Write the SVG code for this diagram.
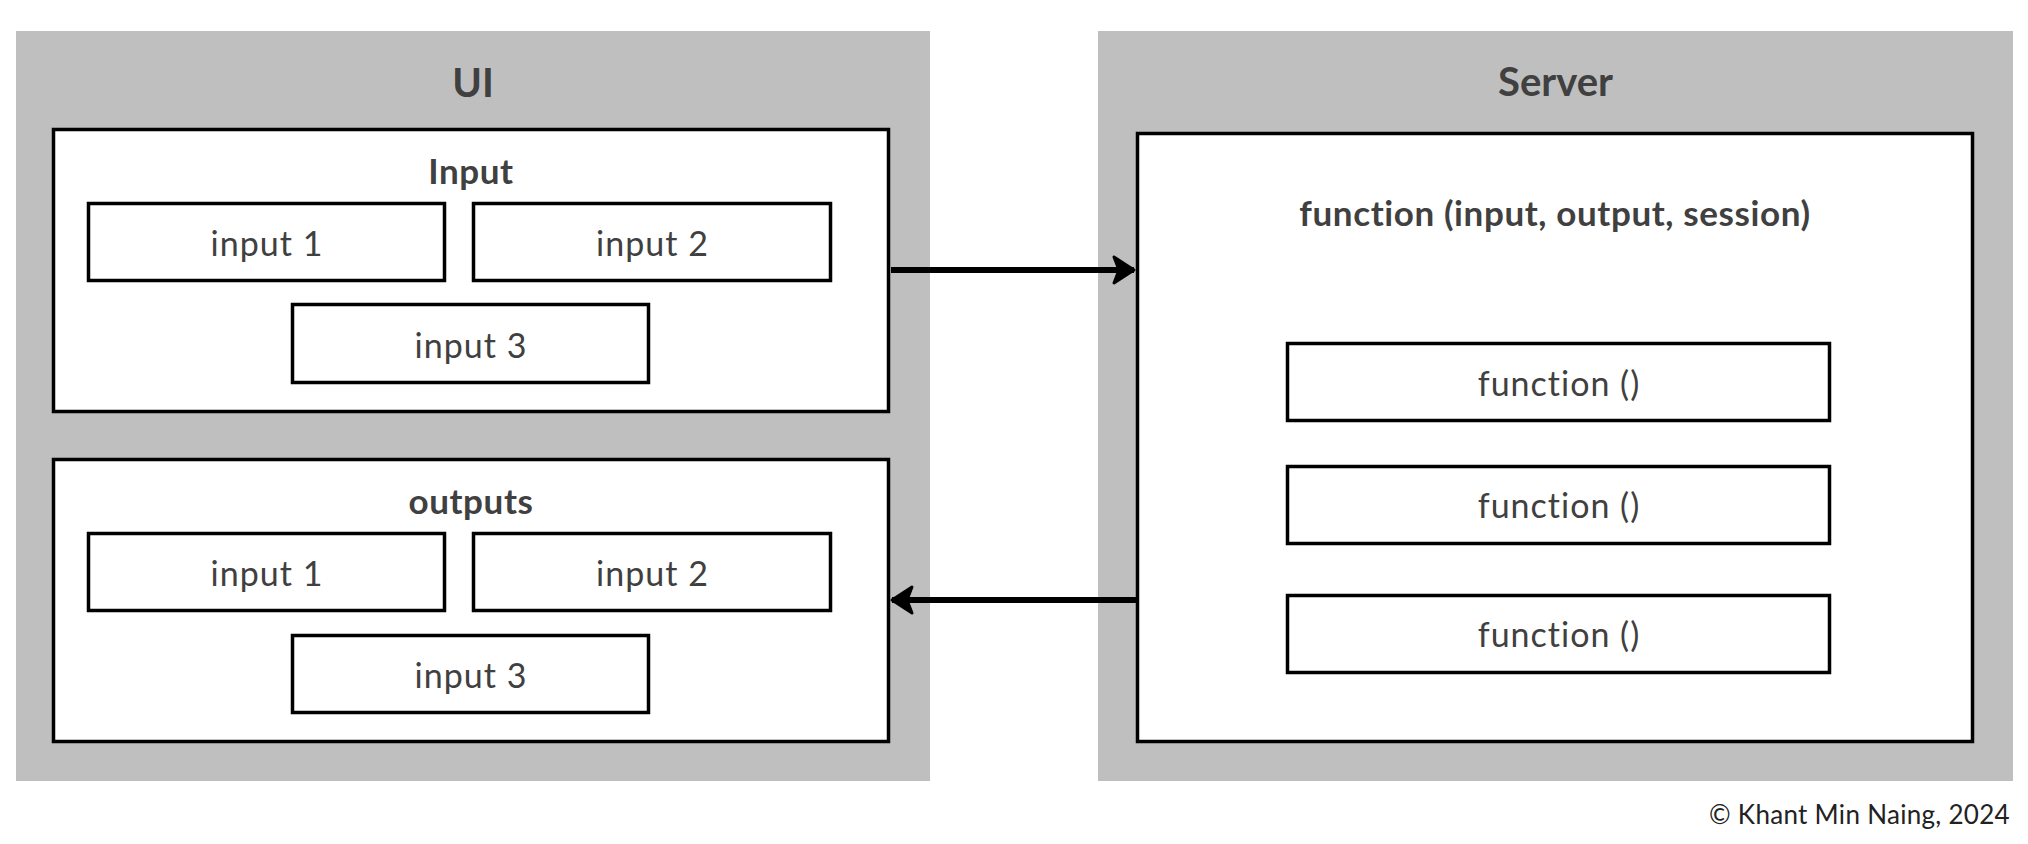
<svg xmlns="http://www.w3.org/2000/svg" width="2028" height="844" viewBox="0 0 2028 844">
<defs>
<style>
.panel{fill:#bfbfbf;stroke:none}
.box{fill:#ffffff;stroke:#000000;stroke-width:3.5}
.t{font-family:Lato,"Liberation Sans",sans-serif;fill:#404040;text-anchor:middle}
.title{font-size:40px;font-weight:bold}
.sub{font-size:35px;font-weight:bold;letter-spacing:0.6px}
.lbl{font-size:34px;font-weight:normal;letter-spacing:1px}
.conn{stroke:#000000;stroke-width:6;fill:none}
</style>
<marker id="ah" markerUnits="userSpaceOnUse" markerWidth="26" markerHeight="32" refX="22" refY="16" orient="auto">
<path d="M2,3 L22,16 L2,29 L7,16 Z" fill="#000000" stroke="#000000" stroke-width="3" stroke-linejoin="round"/>
</marker>
</defs>
<rect width="2028" height="844" fill="#ffffff"/>
<g id="ui">
<rect class="panel" x="16" y="31" width="914" height="750"/>
<text class="t title" x="473" y="97">UI</text>
</g>
<g id="server">
<rect class="panel" x="1098" y="31" width="915" height="750"/>
<text class="t title" x="1555.5" y="96">Server</text>
</g>
<g id="input-group">
<rect class="box" x="53.5" y="129.5" width="835" height="282"/>
<text class="t sub" x="471" y="184">Input</text>
</g>
<g id="in-input1">
<rect class="box" x="88.5" y="203.5" width="356" height="77"/>
<text class="t lbl" x="267" y="256">input 1</text>
</g>
<g id="in-input2">
<rect class="box" x="473.5" y="203.5" width="357" height="77"/>
<text class="t lbl" x="652.5" y="256">input 2</text>
</g>
<g id="in-input3">
<rect class="box" x="292.5" y="304.5" width="356" height="78"/>
<text class="t lbl" x="471" y="358">input 3</text>
</g>
<g id="outputs-group">
<rect class="box" x="53.5" y="459.5" width="835" height="282"/>
<text class="t sub" x="471" y="514">outputs</text>
</g>
<g id="out-input1">
<rect class="box" x="88.5" y="533.5" width="356" height="77"/>
<text class="t lbl" x="267" y="586">input 1</text>
</g>
<g id="out-input2">
<rect class="box" x="473.5" y="533.5" width="357" height="77"/>
<text class="t lbl" x="652.5" y="586">input 2</text>
</g>
<g id="out-input3">
<rect class="box" x="292.5" y="635.5" width="356" height="77"/>
<text class="t lbl" x="471" y="688">input 3</text>
</g>
<g id="server-function">
<rect class="box" x="1137.5" y="133.5" width="835" height="608"/>
<text class="t sub" x="1555" y="226">function (input, output, session)</text>
</g>
<g id="fn1">
<rect class="box" x="1287.5" y="343.5" width="542" height="77"/>
<text class="t lbl" x="1559" y="396">function ()</text>
</g>
<g id="fn2">
<rect class="box" x="1287.5" y="466.5" width="542" height="77"/>
<text class="t lbl" x="1559" y="518">function ()</text>
</g>
<g id="fn3">
<rect class="box" x="1287.5" y="595.5" width="542" height="77"/>
<text class="t lbl" x="1559" y="647">function ()</text>
</g>
<g id="connectors">
<line class="conn" x1="891" y1="270" x2="1134" y2="270" marker-end="url(#ah)"/>
<line class="conn" x1="1136" y1="600" x2="892" y2="600" marker-end="url(#ah)"/>
</g>
<text x="2010" y="824" font-family="Lato,'Liberation Sans',sans-serif" font-size="26" letter-spacing="0.3" fill="#222222" text-anchor="end">© Khant Min Naing, 2024</text>
</svg>
